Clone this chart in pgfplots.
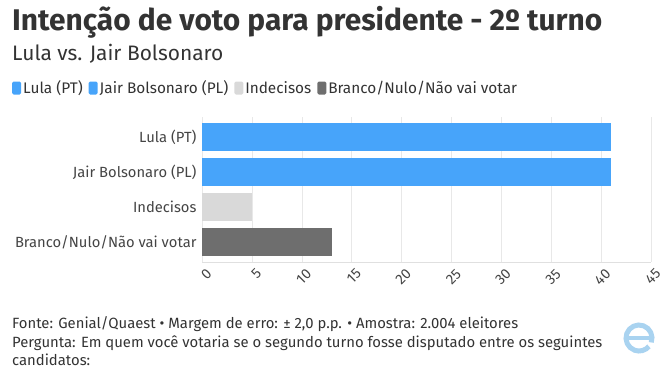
\documentclass[border=0pt]{standalone}
\usepackage{pgfplots}
\pgfplotsset{compat=1.18}
\usepackage{fontspec}
\setmainfont{Fira Sans}
\definecolor{barblue}{HTML}{47A4FA}
\definecolor{lightgr}{HTML}{D9D9D9}
\definecolor{darkgr}{HTML}{6E6E6E}
\definecolor{txt}{HTML}{333333}
\definecolor{lbl}{HTML}{444444}
\definecolor{logo}{HTML}{A9D3F0}
\begin{document}
\begin{tikzpicture}[x=1bp,y=1bp]
\node[anchor=base west,inner sep=0,text=txt,font=\fontsize{30}{32}\selectfont\bfseries] at (12,-30) {Intenção de voto para presidente - 2º turno};
\node[anchor=base west,inner sep=0,text=txt,font=\fontsize{21}{23}\selectfont] at (12,-60) {Lula vs. Jair Bolsonaro};
\begin{axis}[
  at={(202bp,-262bp)}, anchor=south west,
  scale only axis, width=449bp, height=145bp,
  xbar, bar shift=0pt, bar width=28bp,
  xmin=0, xmax=45,
  ymin=-0.57, ymax=3.57, y dir=reverse,
  ytick={0,1,2,3},
  yticklabels={Lula (PT),Jair Bolsonaro (PL),Indecisos,Branco/Nulo/Não vai votar},
  xtick={0,5,...,45},
  /pgf/number format/assume math mode=true,
  xticklabel style={rotate=45,anchor=north east,inner sep=0.5bp,font=\fontsize{14.5}{16}\selectfont,text=lbl,xshift=-1bp,yshift=-6bp},
  yticklabel style={font=\fontsize{14.8}{16}\selectfont,text=lbl,xshift=-2bp},
  major tick length=0pt,
  xmajorgrids, grid style={draw=black!9},
  axis x line*=bottom, axis y line*=left,
  x axis line style={draw=black!12,-},
  y axis line style={draw=none},
  ytick style={draw=none},
  legend columns=4,
  legend style={at={(axis description cs:-0.4232,1.2)},anchor=west,draw=none,fill=none,
    font=\fontsize{15.4}{17}\selectfont,text=txt,inner sep=0pt,
    /tikz/every even column/.append style={column sep=4bp}},
  legend image code/.code={\fill[#1,rounded corners=1.5bp] (0bp,-6.5bp) rectangle (9bp,6.5bp);},
  clip=false,
]
\addplot[fill=barblue,draw=none] coordinates {(41,0)};
\addlegendentry{Lula (PT)}
\addplot[fill=barblue,draw=none] coordinates {(41,1)};
\addlegendentry{Jair Bolsonaro (PL)}
\addplot[fill=lightgr,draw=none] coordinates {(5,2)};
\addlegendentry{Indecisos}
\addplot[fill=darkgr,draw=none] coordinates {(13,3)};
\addlegendentry{Branco/Nulo/Não vai votar}
\end{axis}
\begin{scope}[font=\fontsize{14.9}{16}\selectfont]
\node[anchor=base west,inner sep=0,text=txt] at (12,-328) {Fonte: Genial/Quaest • Margem de erro: ± 2,0 p.p. • Amostra: 2.004 eleitores};
\node[anchor=base west,inner sep=0,text=txt] at (12,-347) {Pergunta: Em quem você votaria se o segundo turno fosse disputado entre os seguintes};
\node[anchor=base west,inner sep=0,text=txt] at (12,-365) {candidatos:};
\end{scope}
\draw[logo,line width=5bp] (639,-338) ++(-20:13) arc[start angle=-20,end angle=320,radius=13];
\draw[logo,line width=4.5bp] (627,-338) -- (651,-338);
\pgfresetboundingbox
\path[use as bounding box] (0,0) rectangle (661,-372);
\end{tikzpicture}
\end{document}
